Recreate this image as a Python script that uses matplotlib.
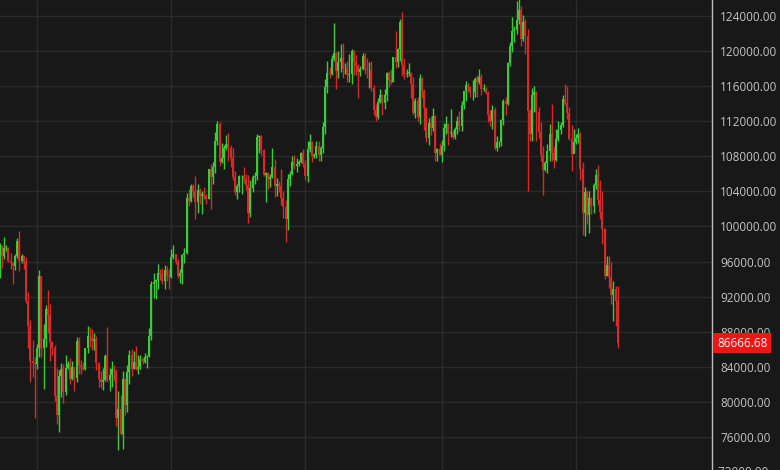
import numpy as np
import pandas as pd
import matplotlib
matplotlib.use("Agg")
import matplotlib.pyplot as plt
import matplotlib.dates as mdates
import matplotlib.transforms as mtransforms

# daily BTC/USD candles, 2025-02-12 .. 2025-11-20, values in thousand USD
start_date = "2025-02-12"

open_k = [
    # Feb
    95.8, 97.8, 96.6, 97.5, 97.6, 96.1, 95.8, 95.5, 96.6, 98.3, 96.1, 96.6, 96.1, 91.5, 88.7, 84.7, 84.4,
    # Mar
    84.3, 86.1, 94.3, 86.1, 87.2, 90.6, 89.9, 86.8, 86.2, 80.7, 78.5, 82.9, 83.7, 81.1, 83.9, 84.3,
    82.6, 84.0, 82.7, 86.9, 84.2, 84.0, 83.8, 86.1, 87.5, 87.4, 86.9, 87.2, 84.4, 82.6, 82.3,
    # Apr
    82.5, 85.2, 82.5, 83.1, 83.8, 83.5, 78.2, 79.2, 76.3, 82.6, 79.6, 83.4, 85.3, 83.7, 84.5, 83.7,
    84.0, 84.9, 84.5, 85.1, 85.2, 87.5, 93.4, 93.7, 93.9, 94.7, 94.6, 93.8, 95.0, 94.3,
    # May
    94.2, 96.5, 96.9, 95.9, 94.3, 94.7, 96.8, 97.0, 103.2, 102.9, 104.6, 104.1, 102.8, 104.2, 103.5, 103.7,
    103.5, 103.1, 106.5, 105.6, 106.8, 109.7, 111.7, 107.3, 107.8, 109.0, 109.4, 108.9, 107.8, 105.6, 103.9,
    # Jun
    104.6, 105.7, 105.8, 105.4, 104.7, 101.5, 104.4, 105.6, 105.7, 110.2, 110.3, 108.7, 105.9, 106.1, 105.4,
    105.6, 106.8, 104.6, 104.9, 104.6, 103.3, 102.2, 100.9, 105.4, 106.0, 107.3, 106.9, 107.1, 107.3, 108.4,
    # Jul
    107.1, 105.7, 108.8, 109.6, 108.0, 108.2, 109.2, 108.2, 108.9, 111.3, 115.9, 117.5, 117.4, 119.1, 119.8, 117.7,
    118.7, 119.2, 117.9, 117.9, 117.3, 117.4, 120.0, 118.7, 118.3, 117.6, 117.9, 119.4, 118.0, 117.8, 117.8,
    # Aug
    115.8, 113.3, 112.5, 114.2, 115.0, 114.1, 115.0, 117.5, 116.7, 116.5, 119.3, 118.7, 120.2, 123.3, 118.4, 117.4,
    117.5, 117.5, 116.3, 112.9, 114.3, 112.5, 116.9, 115.4, 113.5, 110.1, 111.8, 111.2, 112.6, 108.4, 108.8,
    # Sep
    108.2, 109.2, 111.2, 111.7, 110.7, 110.7, 110.2, 111.1, 112.0, 111.5, 113.9, 115.5, 116.1, 115.9, 115.3,
    115.3, 116.8, 116.5, 117.1, 115.7, 115.7, 115.2, 112.7, 112.0, 113.3, 109.0, 109.6, 109.6, 112.1, 114.3,
    # Oct
    114.0, 118.6, 120.6, 122.3, 122.4, 123.5, 124.7, 121.4, 123.3, 121.7, 113.2, 110.6, 115.0, 115.3, 113.0, 110.8,
    108.2, 106.4, 107.2, 108.6, 110.5, 108.4, 107.6, 110.0, 111.0, 111.6, 114.5, 114.1, 112.9, 110.0, 108.3,
    # Nov
    109.6, 110.1, 110.6, 106.5, 101.5, 103.9, 101.3, 103.3, 102.3, 104.7, 105.9, 103.0, 101.6, 99.7, 94.4,
    95.6, 94.2, 92.2, 92.9, 91.5,
]

high_k = [
    # Feb
    98.1, 97.9, 98.8, 97.9, 97.7, 97.0, 96.0, 96.9, 98.7, 99.5, 96.9, 96.6, 96.5, 92.5, 89.3, 87.0, 85.1,
    # Mar
    86.6, 95.0, 94.4, 88.9, 91.0, 92.8, 91.2, 86.9, 86.5, 83.9, 83.6, 84.4, 84.3, 85.3, 84.7, 85.0,
    84.7, 84.0, 87.4, 87.4, 84.8, 84.5, 86.1, 88.7, 88.5, 88.3, 87.8, 87.5, 84.6, 83.5, 83.9,
    # Apr
    85.5, 88.5, 83.9, 84.7, 84.2, 83.8, 81.2, 80.8, 83.5, 82.7, 84.2, 85.9, 86.0, 85.8, 86.4, 85.4,
    85.4, 85.1, 85.6, 85.3, 88.4, 93.8, 94.7, 94.0, 95.7, 95.1, 95.3, 95.6, 95.5, 95.2,
    # May
    97.4, 97.9, 96.9, 96.3, 95.2, 96.9, 97.6, 103.8, 104.3, 104.9, 104.9, 105.8, 104.9, 104.4, 104.1, 104.5,
    103.7, 106.6, 107.1, 107.3, 110.8, 112.0, 111.9, 109.5, 109.3, 110.4, 110.7, 109.3, 108.9, 106.3, 104.9,
    # Jun
    105.9, 105.9, 106.8, 106.0, 105.9, 105.3, 105.9, 106.2, 110.5, 110.4, 110.4, 108.8, 106.2, 106.2, 106.0,
    108.9, 107.7, 105.5, 105.2, 106.5, 104.0, 103.0, 106.0, 106.3, 108.0, 108.2, 107.8, 107.6, 108.5, 108.8,
    # Jul
    107.6, 109.8, 110.6, 109.8, 108.4, 109.7, 109.7, 109.2, 111.9, 116.8, 118.9, 118.2, 119.5, 123.2, 119.9, 120.0,
    120.8, 120.9, 118.6, 118.9, 119.7, 120.2, 120.1, 119.5, 118.5, 118.3, 119.8, 119.8, 119.2, 118.8, 118.9,
    # Aug
    116.1, 114.0, 114.7, 115.7, 115.1, 115.7, 117.6, 117.7, 117.9, 119.3, 122.3, 120.3, 123.7, 124.5, 119.2, 117.9,
    118.6, 117.6, 117.0, 114.6, 114.8, 117.4, 117.0, 115.7, 113.6, 112.4, 112.6, 113.5, 112.7, 108.9, 109.5,
    # Sep
    109.9, 111.8, 112.6, 111.8, 113.4, 111.0, 111.3, 112.6, 113.2, 114.3, 115.5, 116.6, 116.4, 116.0, 116.7,
    117.0, 117.3, 117.9, 117.4, 116.3, 115.9, 115.4, 113.3, 113.9, 113.6, 110.3, 109.8, 112.3, 114.5, 114.8,
    # Oct
    118.7, 121.0, 123.9, 122.9, 125.7, 126.2, 125.1, 124.1, 123.7, 122.5, 113.4, 115.8, 116.0, 115.5, 113.6, 111.9,
    109.2, 107.5, 109.4, 111.7, 114.0, 109.2, 111.1, 112.0, 111.9, 115.0, 116.3, 116.0, 113.6, 111.6, 111.1,
    # Nov
    110.5, 111.2, 110.8, 107.3, 104.5, 104.2, 104.0, 103.4, 105.0, 106.6, 107.0, 105.3, 104.0, 99.8, 96.6,
    96.6, 96.0, 93.8, 93.2, 93.2,
]

low_k = [
    # Feb
    94.1, 95.3, 96.3, 97.2, 96.0, 95.2, 93.4, 95.0, 96.4, 94.9, 95.8, 95.1, 91.3, 86.1, 82.3, 82.8, 78.2,
    # Mar
    83.7, 85.1, 85.1, 81.5, 86.3, 87.8, 84.7, 85.3, 80.1, 77.5, 76.6, 80.6, 79.9, 80.8, 83.7, 82.0,
    82.5, 81.2, 82.3, 83.2, 83.2, 83.6, 83.6, 85.6, 86.3, 85.9, 85.9, 83.6, 81.7, 81.6, 81.3,
    # Apr
    82.4, 82.3, 81.2, 81.7, 82.4, 77.2, 74.5, 76.2, 74.6, 78.5, 78.9, 82.0, 82.9, 83.7, 83.6, 83.2,
    83.8, 84.3, 84.4, 83.9, 85.1, 87.1, 91.8, 91.7, 92.9, 93.9, 93.4, 92.9, 93.8, 92.9,
    # May
    94.1, 96.3, 95.7, 94.1, 93.6, 93.4, 95.8, 96.9, 102.3, 102.8, 103.4, 100.8, 101.5, 102.6, 101.4, 103.1,
    102.6, 103.1, 102.0, 104.9, 106.1, 109.3, 106.9, 107.2, 106.6, 108.7, 107.5, 106.8, 105.3, 103.6, 103.1,
    # Jun
    103.9, 103.7, 105.0, 104.2, 100.4, 101.1, 103.9, 104.9, 105.3, 108.4, 108.1, 105.7, 102.8, 104.3, 104.5,
    105.5, 103.4, 103.5, 103.9, 102.4, 101.0, 98.2, 99.6, 104.6, 105.9, 106.6, 106.2, 106.9, 107.2, 106.8,
    # Jul
    105.3, 105.1, 108.5, 107.3, 107.8, 107.8, 107.5, 107.5, 108.4, 110.6, 115.2, 116.9, 117.3, 118.9, 115.7, 116.9,
    117.6, 116.9, 117.4, 116.5, 116.5, 116.2, 117.3, 117.3, 114.7, 117.2, 117.8, 117.4, 116.9, 115.8, 115.5,
    # Aug
    112.7, 112.0, 112.3, 114.1, 112.7, 113.4, 114.3, 115.9, 116.3, 116.5, 118.1, 118.2, 118.9, 117.2, 116.8, 117.0,
    117.2, 114.7, 112.7, 112.4, 112.0, 111.7, 114.7, 111.0, 109.6, 109.3, 110.4, 110.9, 107.5, 107.5, 108.1,
    # Sep
    107.3, 108.6, 110.6, 109.3, 110.2, 110.0, 110.0, 110.6, 110.9, 110.9, 113.4, 114.3, 115.3, 114.8, 114.4,
    114.8, 114.8, 116.2, 115.0, 115.4, 115.1, 111.9, 111.5, 111.1, 108.7, 108.6, 109.1, 109.2, 111.6, 112.7,
    # Oct
    113.9, 118.3, 119.9, 121.0, 122.0, 123.1, 120.6, 121.1, 119.7, 104.0, 109.7, 109.8, 113.1, 109.8, 110.1, 107.5,
    103.6, 106.3, 106.1, 107.5, 107.5, 106.7, 107.5, 109.7, 110.6, 111.3, 113.9, 112.2, 109.9, 106.3, 108.6,
    # Nov
    109.4, 109.5, 105.3, 99.0, 98.9, 100.3, 99.3, 101.4, 101.5, 104.3, 102.5, 100.8, 98.0, 94.0, 94.3,
    93.0, 91.2, 89.2, 88.6, 86.1,
]

close_k = [
    # Feb
    97.8, 96.6, 97.5, 97.6, 96.1, 95.8, 95.5, 96.6, 98.3, 96.1, 96.6, 96.1, 91.5, 88.7, 84.7, 84.4, 84.3,
    # Mar
    86.1, 94.3, 86.1, 87.2, 90.6, 89.9, 86.8, 86.2, 80.7, 78.5, 82.9, 83.7, 81.1, 83.9, 84.3, 82.6,
    84.0, 82.7, 86.9, 84.2, 84.0, 83.8, 86.1, 87.5, 87.4, 86.9, 87.2, 84.4, 82.6, 82.3, 82.5,
    # Apr
    85.2, 82.5, 83.1, 83.8, 83.5, 78.2, 79.2, 76.3, 82.6, 79.6, 83.4, 85.3, 83.7, 84.5, 83.7, 84.0,
    84.9, 84.5, 85.1, 85.2, 87.5, 93.4, 93.7, 93.9, 94.7, 94.6, 93.8, 95.0, 94.3, 94.2,
    # May
    96.5, 96.9, 95.9, 94.3, 94.7, 96.8, 97.0, 103.2, 102.9, 104.6, 104.1, 102.8, 104.2, 103.5, 103.7, 103.5,
    103.1, 106.5, 105.6, 106.8, 109.7, 111.7, 107.3, 107.8, 109.0, 109.4, 108.9, 107.8, 105.6, 103.9, 104.6,
    # Jun
    105.7, 105.8, 105.4, 104.7, 101.5, 104.4, 105.6, 105.7, 110.2, 110.3, 108.7, 105.9, 106.1, 105.4, 105.6,
    106.8, 104.6, 104.9, 104.6, 103.3, 102.2, 100.9, 105.4, 106.0, 107.3, 106.9, 107.1, 107.3, 108.4, 107.1,
    # Jul
    105.7, 108.8, 109.6, 108.0, 108.2, 109.2, 108.2, 108.9, 111.3, 115.9, 117.5, 117.4, 119.1, 119.8, 117.7, 118.7,
    119.2, 117.9, 117.9, 117.3, 117.4, 120.0, 118.7, 118.3, 117.6, 117.9, 119.4, 118.0, 117.8, 117.8, 115.8,
    # Aug
    113.3, 112.5, 114.2, 115.0, 114.1, 115.0, 117.5, 116.7, 116.5, 119.3, 118.7, 120.2, 123.3, 118.4, 117.4, 117.5,
    117.5, 116.3, 112.9, 114.3, 112.5, 116.9, 115.4, 113.5, 110.1, 111.8, 111.2, 112.6, 108.4, 108.8, 108.2,
    # Sep
    109.2, 111.2, 111.7, 110.7, 110.7, 110.2, 111.1, 112.0, 111.5, 113.9, 115.5, 116.1, 115.9, 115.3, 115.3,
    116.8, 116.5, 117.1, 115.7, 115.7, 115.2, 112.7, 112.0, 113.3, 109.0, 109.6, 109.6, 112.1, 114.3, 114.0,
    # Oct
    118.6, 120.6, 122.3, 122.4, 123.5, 124.7, 121.4, 123.3, 121.7, 113.2, 110.6, 115.0, 115.3, 113.0, 110.8, 108.2,
    106.4, 107.2, 108.6, 110.5, 108.4, 107.6, 110.0, 111.0, 111.6, 114.5, 114.1, 112.9, 110.0, 108.3, 109.6,
    # Nov
    110.1, 110.6, 106.5, 101.5, 103.9, 101.3, 103.3, 102.3, 104.7, 105.9, 103.0, 101.6, 99.7, 94.4, 95.6,
    94.2, 92.2, 92.9, 91.5, 86.66668,
]

last_price = 86666.68
y_ticks = list(range(76000, 124001, 4000))

BG = "#181818"
GRID = "#2b2b2b"
UP = "#3acb3a"
DOWN = "#d42a2a"
TXT = "#c4c4c4"


def main():
    o = np.array(open_k) * 1000
    h = np.array(high_k) * 1000
    l = np.array(low_k) * 1000
    c = np.array(close_k) * 1000
    dates = pd.date_range(start_date, periods=len(c))
    x = mdates.date2num(dates)
    colors = np.where(c >= o, UP, DOWN)

    fig = plt.figure(figsize=(7.8, 4.7), dpi=100, facecolor=BG)
    ax = fig.add_axes([0, 0, 712 / 780, 1])
    ax.set_facecolor(BG)

    ax.vlines(x, l, h, colors=colors, lw=1.0, zorder=3)
    ax.bar(x, np.maximum(np.abs(c - o), 60), bottom=np.minimum(o, c),
           width=0.85, color=colors, lw=0, zorder=3)

    # 2.2 px per day, first candle half cut at left edge
    left = x[0] + 0.18
    ax.set_xlim(left, left + 712 / 2.2)
    ax.set_ylim(72233, 125824)

    ax.xaxis.set_major_locator(mdates.MonthLocator(bymonth=[3, 5, 7, 9, 11]))
    ax.set_yticks(y_ticks)
    ax.yaxis.set_major_formatter(matplotlib.ticker.FormatStrFormatter("%.2f"))
    ax.yaxis.tick_right()
    ax.tick_params(axis="x", length=0, labelbottom=False)
    ax.tick_params(axis="y", length=0, pad=6, labelsize=8.5, labelcolor=TXT)
    for lab in ax.get_yticklabels():
        lab.set_family(["Open Sans", "DejaVu Sans"])
    ax.grid(True, color=GRID, lw=1)
    ax.set_axisbelow(True)

    for s in ["top", "left", "bottom"]:
        ax.spines[s].set_visible(False)
    ax.spines["right"].set_color("#bdbdbd")
    ax.spines["right"].set_linewidth(1)

    tr = mtransforms.blended_transform_factory(ax.transAxes, ax.transData)
    # partly visible label under the bottom edge
    ax.text(1.0, 72000, "  72000.00", transform=tr, ha="left", va="center",
            fontsize=8.5, color=TXT, family=["Open Sans", "DejaVu Sans"], clip_on=False)
    ax.text(1.0 + 5 / 712, last_price, f"{last_price:.2f}", transform=tr,
            ha="left", va="center", fontsize=8.5, color="white",
            family=["Open Sans", "DejaVu Sans"], clip_on=False, zorder=5,
            bbox=dict(boxstyle="square,pad=0.3", fc="#f01414", ec="none"))

    fig.savefig("out.png", dpi=100, facecolor=BG)


if __name__ == "__main__":
    main()
